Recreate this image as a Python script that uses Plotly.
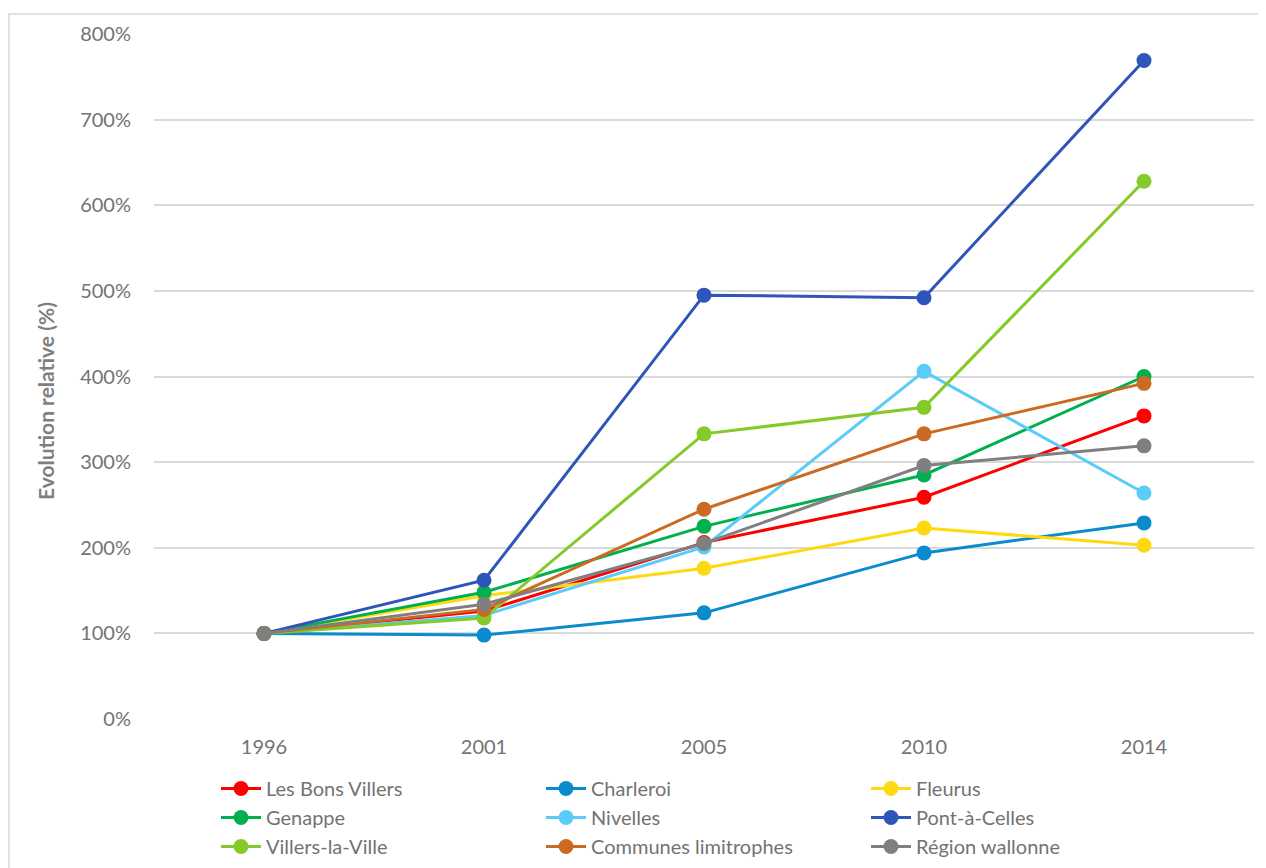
import plotly.graph_objects as go

years = ["1996", "2001", "2005", "2010", "2014"]

les_bons_villers = [100, 126, 206, 259, 354]
charleroi = [100, 98, 124, 194, 229]
fleurus = [100, 144, 176, 223, 203]
genappe = [100, 148, 225, 285, 400]
nivelles = [100, 121, 201, 406, 264]
pont_a_celles = [100, 162, 495, 492, 769]
villers_la_ville = [100, 118, 333, 364, 628]
communes_limitrophes = [100, 128, 245, 333, 392]
region_wallonne = [100, 134, 205, 296, 319]

series_names = ["Les Bons Villers", "Charleroi", "Fleurus", "Genappe", "Nivelles",
                "Pont-à-Celles", "Villers-la-Ville", "Communes limitrophes", "Région wallonne"]
series_values = [les_bons_villers, charleroi, fleurus, genappe, nivelles,
                 pont_a_celles, villers_la_ville, communes_limitrophes, region_wallonne]
series_colors = ["#FF0000", "#0A8BCB", "#FFD90F", "#00B050", "#5BCBFA",
                 "#2E55B8", "#84CA28", "#CB6A22", "#7F7F7F"]

y_ticks = [0, 100, 200, 300, 400, 500, 600, 700, 800]
y_tick_labels = [f"{v}%" for v in y_ticks]
y_title = "Evolution relative (%)"

FONT = "Lato, 'Open Sans', sans-serif"
TXT = "#737373"

# page body has an 8px offset, so the figure is 8px smaller than the window
W, H = 1258, 860
L, R, T, B = 146, 12, 26, 149
PW, PH = W - L - R, H - T - B

fig = go.Figure()
for name, vals, col in zip(series_names, series_values, series_colors):
    fig.add_trace(go.Scatter(
        x=years, y=vals, name=name, mode="lines+markers",
        line=dict(color=col, width=3),
        marker=dict(color=col, size=15),
    ))

fig.update_layout(
    width=W, height=H,
    margin=dict(l=L, r=R, t=T, b=B),
    paper_bgcolor="white", plot_bgcolor="white",
    font=dict(family=FONT, size=20, color=TXT),
    showlegend=True,
    legend=dict(
        orientation="h", xref="container", yref="container",
        x=208 / W, xanchor="left", y=1 - 761 / H, yanchor="top",
        entrywidth=270, entrywidthmode="pixels",
        font=dict(family=FONT, size=20, color=TXT),
        itemwidth=40, traceorder="normal",
    ),
    xaxis=dict(
        type="category", range=[-0.5, 4.5], showgrid=False, showline=False,
        zeroline=False, ticks="", tickfont=dict(size=20),
        ticklabelstandoff=14,
    ),
    yaxis=dict(
        range=[0, 800], tickvals=y_ticks, ticktext=y_tick_labels,
        showgrid=True, gridcolor="#D9D9D9", gridwidth=2, zeroline=False,
        showline=False, ticks="", tickfont=dict(size=20),
        ticklabelstandoff=22,
    ),
    annotations=[dict(
        text=f"<b>{y_title}</b>", xref="paper", yref="paper",
        x=(37 - L) / PW, y=(PH + T - 393) / PH, xanchor="center", yanchor="middle",
        textangle=-90, showarrow=False, font=dict(family=FONT, size=21, color="#7F7F7F"),
    )],
    shapes=[dict(type="rect", xref="paper", yref="paper",
                 x0=(1 - L) / PW, x1=1.2, y0=-0.4, y1=(PH + T - 6) / PH,
                 line=dict(color="#D9D9D9", width=1.5), fillcolor="rgba(0,0,0,0)",
                 layer="below")],
)

fig.write_html("out.html")
